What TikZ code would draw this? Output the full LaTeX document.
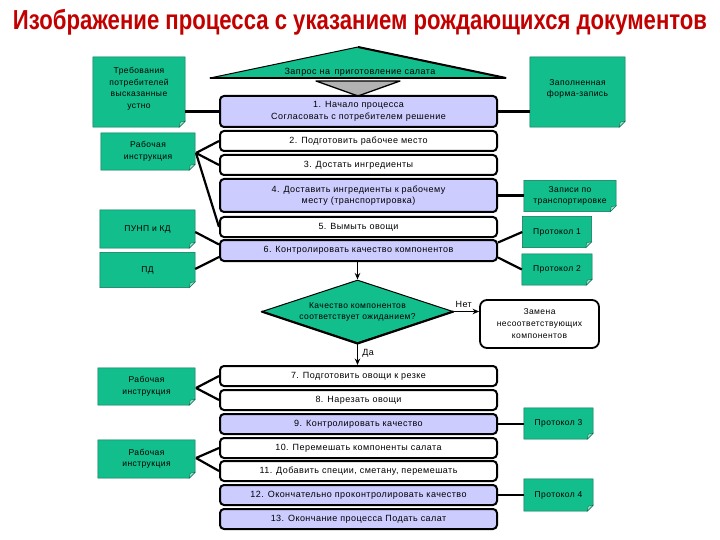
\documentclass[tikz,border=0pt]{standalone}
\usepackage{fontspec}
\setmainfont{Liberation Sans}
\newfontfamily\spaced[LetterSpace=5]{Liberation Sans}
\usetikzlibrary{shapes.geometric,arrows.meta,backgrounds,calc}
\definecolor{docgreen}{RGB}{18,190,140}
\definecolor{docedge}{RGB}{10,110,80}
\definecolor{foldgreen}{RGB}{150,225,200}
\definecolor{lav}{RGB}{204,204,255}
\definecolor{titlered}{RGB}{195,0,0}
\newcommand\docshape[1]{%
  \filldraw[fill=docgreen,draw=docedge,line width=0.5pt] (#1.north west) -- (#1.north east) -- ([yshift=6pt]#1.south east) -- ([xshift=-6pt]#1.south east) -- (#1.south west) -- cycle;
  \filldraw[fill=foldgreen,draw=docedge,line width=0.4pt] ([yshift=6pt]#1.south east) -- ([xshift=-6pt]#1.south east) -- ([xshift=-5pt,yshift=5pt]#1.south east) -- cycle;}
\begin{document}
\begin{tikzpicture}[x=1pt,y=-1pt,
  proc/.style={draw, line width=2pt, rounded corners=4pt, minimum width=277pt, inner sep=1pt, align=center, font=\spaced\fontsize{9}{11.5}\selectfont, fill=white},
  lavproc/.style={proc, fill=lav},
  docnode/.style={inner sep=1pt, align=center, font=\spaced\fontsize{8.5}{11.5}\selectfont},
  conn/.style={line width=2.2pt},
  arr/.style={line width=1.5pt, -{Stealth[length=6.5pt,width=5.5pt]}},
  lbl/.style={inner sep=0pt, font=\spaced\fontsize{9}{10}\selectfont}]
\useasboundingbox (0,0) rectangle (720,540);

% title
\node (title) at (360,22) {\resizebox{694pt}{\height}{\color{titlered}\fontsize{27.5}{27.5}\selectfont\bfseries Изображение процесса с указанием рождающихся документов}};

% top request shape
\filldraw[fill=docgreen, draw=black, line width=1pt, line join=round] (210,78) -- (358,47) -- (506,78) -- cycle;
\draw[line width=2pt] (358,47) -- (506,78);
\draw[line width=2.5pt] (210,78) -- (506,78);
\filldraw[fill=gray!60, draw=black, line width=1.3pt, line join=round] (316,81) -- (400,81) -- (358,96) -- cycle;
\node[lbl] (req) at (360,72) {Запрос на\enspace приготовление салата};

% process boxes
\node[lavproc, minimum height=31pt] (b1) at (358.5,111.5) {1. Начало процесса\\Согласовать с потребителем решение};
\node[proc, minimum height=20pt] (b2) at (358.5,141) {2. Подготовить рабочее место};
\node[proc, minimum height=20pt] (b3) at (358.5,165) {3. Достать ингредиенты};
\node[lavproc, minimum height=33pt] (b4) at (358.5,195.5) {4. Доставить ингредиенты к рабочему\\месту (транспортировка)};
\node[proc, minimum height=20pt] (b5) at (358.5,227) {5. Вымыть овощи};
\node[lavproc, minimum height=21pt] (b6) at (358.5,250.5) {6. Контролировать качество компонентов};
\node[proc, minimum height=20pt] (b7) at (358.5,376) {7. Подготовить овощи к резке};
\node[proc, minimum height=20pt] (b8) at (358.5,400) {8. Нарезать овощи};
\node[lavproc, minimum height=20pt] (b9) at (358.5,424) {9. Контролировать качество};
\node[proc, minimum height=20pt] (b10) at (358.5,448) {10. Перемешать компоненты салата};
\node[proc, minimum height=20pt] (b11) at (358.5,471) {11. Добавить специи, сметану, перемешать};
\node[lavproc, minimum height=20pt] (b12) at (358.5,495) {12. Окончательно проконтролировать качество};
\node[lavproc, minimum height=20pt] (b13) at (358.5,519) {13. Окончание процесса Подать салат};

% decision
\node[diamond, aspect=3, draw, fill=docgreen, line width=1pt, minimum width=191pt, minimum height=63pt, inner sep=0pt, align=center, font=\spaced\fontsize{8.5}{11}\selectfont] (dia) at (357.5,311.5) {Качество компонентов\\соответствует ожиданием?};
\draw[line width=2.2pt, line join=round] (dia.west) -- (dia.south) -- (dia.east);
\node[draw, line width=1.8pt, rounded corners=7pt, fill=white, minimum width=119pt, minimum height=48pt, align=center, inner sep=1pt, font=\spaced\fontsize{8.5}{12}\selectfont] (repl) at (539.5,324) {Замена\\несоответствующих\\компонентов};

% documents
\node[docnode, minimum width=92pt, minimum height=70pt, text depth=8pt] (d1) at (139,92) {Требования\\потребителей\\высказанные\\устно};
\node[docnode, minimum width=95pt, minimum height=70pt, text depth=8pt] (d2) at (577.5,92) {Заполненная\\форма-запись};
\node[docnode, minimum width=94pt, minimum height=37pt] (d3) at (148,151.5) {Рабочая\\инструкция};
\node[docnode, minimum width=95pt, minimum height=38pt] (d4) at (147.5,229) {ПУНП и КД};
\node[docnode, minimum width=95pt, minimum height=35pt] (d5) at (147.5,270) {ПД};
\node[docnode, minimum width=92pt, minimum height=31pt] (d6) at (570,196) {Записи по\\транспортировке};
\node[docnode, minimum width=69pt, minimum height=31pt] (d7) at (557,232) {Протокол 1};
\node[docnode, minimum width=70pt, minimum height=31pt] (d8) at (557,269.5) {Протокол 2};
\node[docnode, minimum width=97pt, minimum height=37pt] (d9) at (146.5,386.5) {Рабочая\\инструкция};
\node[docnode, minimum width=97pt, minimum height=38pt] (d10) at (146.5,459) {Рабочая\\инструкция};
\node[docnode, minimum width=69pt, minimum height=31pt] (d11) at (558.5,423.5) {Протокол 3};
\node[docnode, minimum width=69pt, minimum height=32pt] (d12) at (558.5,495) {Протокол 4};

\begin{scope}[on background layer]
\fill[white] (0,0) rectangle (720,540);
\foreach \d in {d1,d2,d3,d4,d5,d6,d7,d8,d9,d10,d11,d12} {\docshape{\d}}
\end{scope}

% connectors
\coordinate (c3) at (196,153);
\coordinate (c9) at (196,388);
\coordinate (c10) at (196,458);
\draw[conn] (b1.west) -- (b1.west -| d1.east);
\draw[conn] (b1.east) -- (b1.east -| d2.west);
\draw[conn] (c3) -- (b2.west);
\draw[conn] (c3) -- (b3.west);
\draw[conn] (c3) -- (b5.west);
\draw[conn] ($(d4.east)+(0,3)$) -- ($(b6.west)+(0,-6)$);
\draw[conn] ($(d5.east)+(0,-1)$) -- ($(b6.west)+(0,6.5)$);
\draw[conn] (b4.east) -- (b4.east -| d6.west);
\draw[conn] ($(b6.east)+(0,-8)$) -- (d7.west);
\draw[conn] ($(b6.east)+(0,7)$) -- (d8.west);
\draw[conn] (c9) -- (b7.west);
\draw[conn] (c9) -- (b8.west);
\draw[conn] (c10) -- (b10.west);
\draw[conn] (c10) -- (b11.west);
\draw[conn] (b9.east) -- (b9.east -| d11.west);
\draw[conn] (b12.east) -- (b12.east -| d12.west);

% arrows
\draw[arr] (b6.south -| dia.north) -- (dia.north);
\draw[arr] (dia.east) -- (repl.west |- dia.east) node[lbl, pos=0.4, above=3pt] (no) {Нет};
\draw[arr] (dia.south) -- (b7.north -| dia.south) node[lbl, pos=0.45, right=4pt] (yes) {Да};
\end{tikzpicture}
\end{document}
